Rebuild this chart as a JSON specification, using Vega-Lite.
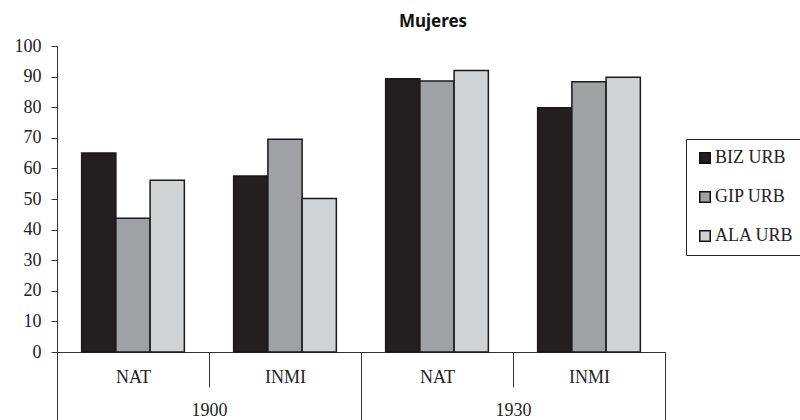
{
  "$schema": "https://vega.github.io/schema/vega-lite/v6.json",
  "width": 608,
  "height": 306,
  "autosize": {"type": "none"},
  "padding": {"left": 57, "top": 46, "right": 135, "bottom": 68},
  "title": {"text": "Mujeres", "font": "Noto Sans", "fontSize": 17, "fontWeight": "bold", "color": "#111", "anchor": "middle", "dx": 72, "offset": 6},
  "data": {"values": [
    {"year": "1900", "grp": "NAT", "cat": "1900 NAT", "series": "BIZ URB", "value": 65.0},
    {"year": "1900", "grp": "NAT", "cat": "1900 NAT", "series": "GIP URB", "value": 43.7},
    {"year": "1900", "grp": "NAT", "cat": "1900 NAT", "series": "ALA URB", "value": 56.1},
    {"year": "1900", "grp": "INMI", "cat": "1900 INMI", "series": "BIZ URB", "value": 57.5},
    {"year": "1900", "grp": "INMI", "cat": "1900 INMI", "series": "GIP URB", "value": 69.5},
    {"year": "1900", "grp": "INMI", "cat": "1900 INMI", "series": "ALA URB", "value": 50.2},
    {"year": "1930", "grp": "NAT", "cat": "1930 NAT", "series": "BIZ URB", "value": 89.3},
    {"year": "1930", "grp": "NAT", "cat": "1930 NAT", "series": "GIP URB", "value": 88.6},
    {"year": "1930", "grp": "NAT", "cat": "1930 NAT", "series": "ALA URB", "value": 92.0},
    {"year": "1930", "grp": "INMI", "cat": "1930 INMI", "series": "BIZ URB", "value": 79.8},
    {"year": "1930", "grp": "INMI", "cat": "1930 INMI", "series": "GIP URB", "value": 88.3},
    {"year": "1930", "grp": "INMI", "cat": "1930 INMI", "series": "ALA URB", "value": 89.8}
  ]},
  "config": {
    "view": {"stroke": null},
    "axis": {"labelFont": "Liberation Serif", "labelFontSize": 18, "labelColor": "#222", "domainColor": "#333", "tickColor": "#333", "grid": false, "title": null}
  },
  "layer": [
    {
      "mark": {"type": "bar", "stroke": "#1a1a1a", "strokeWidth": 1.5},
      "encoding": {
        "x": {"field": "cat", "type": "nominal",
          "scale": {"domain": ["1900 NAT", "1900 INMI", "1930 NAT", "1930 INMI"], "paddingInner": 0, "paddingOuter": 0},
          "axis": {"orient": "bottom", "labelExpr": "split(datum.label, ' ')[1]", "labelAngle": 0, "tickBand": "extent", "tickSize": 35, "labelPadding": -10, "labelBaseline": "middle", "title": null}},
        "xOffset": {"field": "series", "type": "nominal", "scale": {"domain": ["BIZ URB", "GIP URB", "ALA URB"], "paddingInner": 0, "paddingOuter": 0.72}},
        "y": {"field": "value", "type": "quantitative", "scale": {"domain": [0, 100]},
          "axis": {"values": [0, 10, 20, 30, 40, 50, 60, 70, 80, 90, 100], "tickSize": 6, "labelPadding": 10, "title": null}},
        "color": {"field": "series", "type": "nominal",
          "scale": {"domain": ["BIZ URB", "GIP URB", "ALA URB"], "range": ["#231f20", "#a0a1a4", "#d1d2d4"]},
          "legend": {"orient": "none", "legendX": 629, "legendY": 93, "title": null, "padding": 10, "strokeColor": "#222",
            "symbolType": "square", "symbolSize": 110, "symbolStrokeColor": "#111", "symbolStrokeWidth": 1.5,
            "labelFont": "Liberation Serif", "labelFontSize": 18, "labelColor": "#222", "rowPadding": 21, "labelOffset": 1}}
      }
    },
    {
      "mark": {"type": "bar", "opacity": 0},
      "encoding": {
        "x": {"field": "year", "type": "nominal",
          "scale": {"domain": ["1900", "1930"], "paddingInner": 0, "paddingOuter": 0},
          "axis": {"orient": "bottom", "tickBand": "extent", "tickSize": 68, "labelPadding": -10, "labelBaseline": "middle", "labelAngle": 0, "domain": false, "title": null}}
      }
    }
  ],
  "resolve": {"scale": {"x": "independent"}, "axis": {"x": "independent"}}
}
